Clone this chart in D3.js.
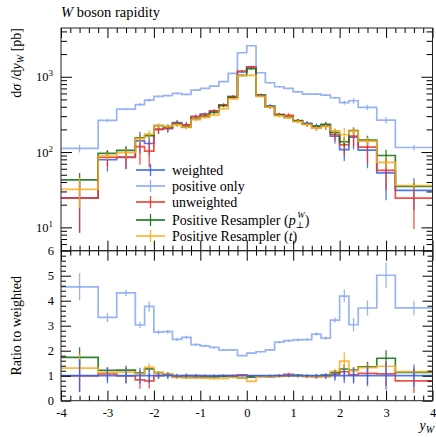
<!DOCTYPE html>
<html>
<head>
<meta charset="utf-8">
<script src="https://cdn.jsdelivr.net/npm/d3@7"></script>
<style>
  body { margin: 0; background: #fff; }
  svg text { font-family: "Liberation Serif", "DejaVu Serif", serif; fill: #000; }
  .tick line { stroke: #000; }
</style>
</head>
<body>
<svg id="chart" width="436" height="437"></svg>
<script>
  // bin edges in y_W
  const edges = [-4, -3.2, -2.8, -2.4, -2.2, -2, -1.8, -1.6, -1.4, -1.2, -1, -0.8, -0.6, -0.4, -0.2,
    0, 0.2, 0.4, 0.6, 0.8, 1, 1.2, 1.4, 1.6, 1.8, 2, 2.2, 2.4, 2.8, 3.2, 4];

  // dsigma/dy_W [pb], one value per bin
  const weighted = [24.6, 79, 86, 141, 130, 200, 204, 246, 230, 296, 320, 353, 425, 546, 1157,
    1358, 577, 410, 315, 292, 259, 241, 221, 228, 163, 108, 158, 106, 53, 31];
  const weightedErr = [16, 24, 26, 45, 39, 24, 24, 20, 18, 18, 16, 18, 17, 22, 35,
    41, 23, 20, 16, 18, 16, 17, 18, 23, 33, 32, 50, 45, 30, 14];

  const positiveOnly = [112, 263, 371, 427, 490, 548, 563, 603, 583, 665, 701, 752, 859, 1109, 2083,
    2580, 1130, 832, 737, 701, 631, 589, 589, 571, 526, 452, 480, 393, 266, 115];
  const positiveOnlyErr = [13.5, 14, 11, 18, 26, 16, 16, 17, 14, 14, 14, 15, 16, 18, 25,
    28, 18, 16, 15, 14, 14, 14, 15, 15, 16, 27, 43, 32, 27, 9];

  const unweighted = [24.4, 85, 85, 118, 103, 200, 208, 239, 230, 296, 314, 349, 425, 546, 1192,
    1345, 565, 394, 315, 307, 259, 234, 210, 221, 171, 125, 163, 116, 57, 24.5];
  const unweightedErr = [16, 21, 26, 50, 40, 26, 24, 20, 18, 18, 17, 18, 18, 22, 36,
    42, 24, 20, 17, 20, 16, 17, 18, 23, 30, 35, 45, 45, 26, 15];

  const resamplerPt = [42.6, 96, 105, 155, 165, 224, 218, 234, 214, 275, 298, 335, 412, 530, 1041,
    1277, 560, 398, 309, 289, 262, 236, 219, 233, 183, 137, 193, 144, 90, 35];
  const resamplerPtErr = [10, 9, 15, 15, 14, 14, 12, 12, 11, 12, 12, 13, 14, 18, 28,
    34, 18, 15, 13, 12, 12, 12, 12, 13, 15, 16, 20, 21, 17, 4];

  const resamplerT = [32, 88.5, 98, 151, 173, 224, 220, 229, 212, 269, 288, 311, 378, 508, 1041,
    1046, 548, 394, 302, 286, 254, 231, 210, 219, 192, 171, 190, 140, 73, 36];
  const resamplerTErr = [14, 10, 13, 18, 22, 14, 12, 12, 11, 12, 12, 13, 14, 18, 28,
    30, 18, 15, 13, 12, 12, 12, 12, 13, 16, 38, 22, 18, 12, 5];

  const xMajor = [-4, -3, -2, -1, 0, 1, 2, 3, 4];
  const ratioMajor = [0, 1, 2, 3, 4, 5, 6];
  const logMajor = [10, 100, 1000];

  const series = [
    {key: 'weighted', values: weighted, errors: weightedErr, color: '#2f62f0'},
    {key: 'positive', values: positiveOnly, errors: positiveOnlyErr, color: '#86a6f6'},
    {key: 'unweighted', values: unweighted, errors: unweightedErr, color: '#ee3322'},
    {key: 'pt', values: resamplerPt, errors: resamplerPtErr, color: '#0f6e0f'},
    {key: 't', values: resamplerT, errors: resamplerTErr, color: '#ffaa22'}
  ];

  const L = 61, R = 432.5, T = 28, M = 250.7, B = 400.7;

  const x = d3.scaleLinear().domain([-4, 4]).range([L, R]);
  const y = d3.scaleLog().domain([4.9, 4440]).range([M, T]);
  const yr = d3.scaleLinear().domain([0, 6]).range([B, M]);

  const svg = d3.select('#chart');
  const defs = svg.append('defs');
  defs.append('clipPath').attr('id', 'clipTop')
    .append('rect').attr('x', L).attr('y', T).attr('width', R - L).attr('height', M - T);
  defs.append('clipPath').attr('id', 'clipRatio')
    .append('rect').attr('x', L).attr('y', M).attr('width', R - L).attr('height', B - M);

  const bins = d3.range(edges.length - 1);
  const stepLine = d3.line().x(d => d[0]).y(d => d[1]);

  function stepPoints(vals, yScale) {
    const pts = [];
    bins.forEach(i => {
      pts.push([x(edges[i]), yScale(vals[i])]);
      pts.push([x(edges[i + 1]), yScale(vals[i])]);
    });
    return pts;
  }

  function drawSeries(g, vals, errs, color, yScale) {
    const sg = g.append('g');
    sg.append('path')
      .attr('d', stepLine(stepPoints(vals, yScale)))
      .attr('fill', 'none')
      .attr('stroke', color)
      .attr('stroke-width', 1.7)
      .attr('stroke-opacity', 0.85);
    sg.selectAll('line.err')
      .data(bins)
      .join('line')
      .attr('class', 'err')
      .attr('x1', i => x((edges[i] + edges[i + 1]) / 2))
      .attr('x2', i => x((edges[i] + edges[i + 1]) / 2))
      .attr('y1', i => yScale(Math.max(vals[i] - errs[i], 1e-3)))
      .attr('y2', i => yScale(vals[i] + errs[i]))
      .attr('stroke', color)
      .attr('stroke-width', 1.3)
      .attr('stroke-opacity', 0.85);
  }

  // main panel
  const mainPanel = svg.append('g').attr('clip-path', 'url(#clipTop)');
  series.forEach(s => drawSeries(mainPanel, s.values, s.errors, s.color, y));

  // ratio panel, reference drawn last
  const ratioPanel = svg.append('g').attr('clip-path', 'url(#clipRatio)');
  const ratioOrder = [1, 2, 3, 4, 0];
  ratioOrder.forEach(k => {
    const s = series[k];
    const rv = s.values.map((v, i) => v / weighted[i]);
    const re = s.errors.map((e, i) => e / weighted[i]);
    drawSeries(ratioPanel, rv, re, s.color, yr);
  });

  // ticks (inward on all four sides)
  const xMinor = d3.range(-40, 41, 2).map(d => d / 10).filter(d => !Number.isInteger(d));
  const logMinor = [];
  [1, 10, 100, 1000].forEach(dec => d3.range(2, 10).forEach(m => {
    const v = m * dec;
    if (v >= 4.9 && v <= 4440) logMinor.push(v);
  }));
  const ratioMinor = d3.range(0, 61, 2).map(d => d / 10).filter(d => !Number.isInteger(d));

  function addAxis(axis, tx, ty) {
    const g = svg.append('g').attr('transform', `translate(${tx},${ty})`).call(axis);
    g.select('.domain').remove();
    return g;
  }
  const noLabel = () => '';

  // main panel x ticks, top and bottom edges
  addAxis(d3.axisTop(x).tickValues(xMajor).tickSize(-10).tickFormat(noLabel), 0, T);
  addAxis(d3.axisTop(x).tickValues(xMinor).tickSize(-5).tickFormat(noLabel), 0, T);
  addAxis(d3.axisBottom(x).tickValues(xMajor).tickSize(-10).tickFormat(noLabel), 0, M);
  addAxis(d3.axisBottom(x).tickValues(xMinor).tickSize(-5).tickFormat(noLabel), 0, M);

  // main panel y ticks
  const yLeft = addAxis(d3.axisLeft(y).tickValues(logMajor).tickSize(-11).tickPadding(8)
    .tickFormat(noLabel), L, 0);
  yLeft.selectAll('.tick text')
    .attr('font-size', 12.5)
    .each(function(d) {
      const t = d3.select(this);
      t.append('tspan').text('10');
      t.append('tspan').attr('dy', -5).attr('font-size', 9).text(String(Math.round(Math.log10(d))));
    });
  addAxis(d3.axisLeft(y).tickValues(logMinor).tickSize(-6).tickFormat(noLabel), L, 0);
  addAxis(d3.axisRight(y).tickValues(logMajor).tickSize(-11).tickFormat(noLabel), R, 0);
  addAxis(d3.axisRight(y).tickValues(logMinor).tickSize(-6).tickFormat(noLabel), R, 0);

  // ratio panel ticks
  addAxis(d3.axisTop(x).tickValues(xMajor).tickSize(-10).tickFormat(noLabel), 0, M);
  addAxis(d3.axisTop(x).tickValues(xMinor).tickSize(-5).tickFormat(noLabel), 0, M);
  addAxis(d3.axisBottom(x).tickValues(xMajor).tickSize(-10).tickPadding(7).tickFormat(d => String(d)), 0, B)
    .selectAll('text').attr('font-size', 12.5);
  addAxis(d3.axisBottom(x).tickValues(xMinor).tickSize(-5).tickFormat(noLabel), 0, B);
  addAxis(d3.axisLeft(yr).tickValues(ratioMajor).tickSize(-10).tickPadding(7).tickFormat(d => String(d)), L, 0)
    .selectAll('text').attr('font-size', 12.5);
  addAxis(d3.axisLeft(yr).tickValues(ratioMinor).tickSize(-5).tickFormat(noLabel), L, 0);
  addAxis(d3.axisRight(yr).tickValues(ratioMajor).tickSize(-10).tickFormat(noLabel), R, 0);
  addAxis(d3.axisRight(yr).tickValues(ratioMinor).tickSize(-5).tickFormat(noLabel), R, 0);

  // frames
  svg.append('rect').attr('x', L).attr('y', T).attr('width', R - L).attr('height', M - T)
    .attr('fill', 'none').attr('stroke', '#222').attr('stroke-width', 1);
  svg.append('rect').attr('x', L).attr('y', M).attr('width', R - L).attr('height', B - M)
    .attr('fill', 'none').attr('stroke', '#222').attr('stroke-width', 1);

  // title
  const title = svg.append('text').attr('x', L).attr('y', 17).attr('font-size', 14.5);
  title.append('tspan').attr('font-style', 'italic').text('W');
  title.append('tspan').text(' boson rapidity');

  // y label main
  const yl = svg.append('text')
    .attr('transform', `translate(21,${T}) rotate(-90)`)
    .attr('text-anchor', 'end')
    .attr('font-size', 14);
  yl.append('tspan').text('d');
  yl.append('tspan').attr('font-style', 'italic').text('σ');
  yl.append('tspan').text(' /d');
  yl.append('tspan').attr('font-style', 'italic').text('y');
  yl.append('tspan').attr('font-style', 'italic').attr('font-size', 10).attr('dy', 3).text('W');
  yl.append('tspan').attr('dy', -3).text(' [pb]');

  // y label ratio
  svg.append('text')
    .attr('transform', `translate(21,${(M + B) / 2}) rotate(-90)`)
    .attr('text-anchor', 'middle')
    .attr('font-size', 14)
    .text('Ratio to weighted');

  // x label
  const xl = svg.append('text').attr('x', 434).attr('y', 430).attr('text-anchor', 'end').attr('font-size', 14);
  xl.append('tspan').attr('font-style', 'italic').text('y');
  xl.append('tspan').attr('font-style', 'italic').attr('font-size', 10).attr('dy', 3).text('W');

  // legend
  const legendX = 136, legendW = 29, legendY = 170;
  const legend = svg.append('g');
  series.forEach((s, i) => {
    const ly = legendY + i * 16 + (i >= 3 ? 2 : 0);
    const g = legend.append('g').attr('transform', `translate(${legendX},${ly})`);
    g.append('line').attr('x1', 0).attr('x2', legendW).attr('y1', 0).attr('y2', 0)
      .attr('stroke', s.color).attr('stroke-width', 1.7).attr('stroke-opacity', 0.9);
    g.append('line').attr('x1', legendW / 2).attr('x2', legendW / 2).attr('y1', -6).attr('y2', 6)
      .attr('stroke', s.color).attr('stroke-width', 1.3).attr('stroke-opacity', 0.9);
    const t = g.append('text').attr('x', legendW + 7).attr('y', 4.5).attr('font-size', 14);
    if (s.key === 'weighted') t.text('weighted');
    if (s.key === 'positive') t.text('positive only');
    if (s.key === 'unweighted') t.text('unweighted');
    if (s.key === 'pt') {
      t.append('tspan').text('Positive Resampler (');
      t.append('tspan').attr('font-style', 'italic').text('p');
      t.append('tspan').attr('font-size', 9).attr('dy', 3).text('⊥');
      t.append('tspan').attr('font-size', 9).attr('font-style', 'italic').attr('dx', -7).attr('dy', -10).text('W');
      t.append('tspan').attr('dy', 7).text(')');
    }
    if (s.key === 't') {
      t.append('tspan').text('Positive Resampler (');
      t.append('tspan').attr('font-style', 'italic').text('t');
      t.append('tspan').text(')');
    }
  });
</script>
</body>
</html>
